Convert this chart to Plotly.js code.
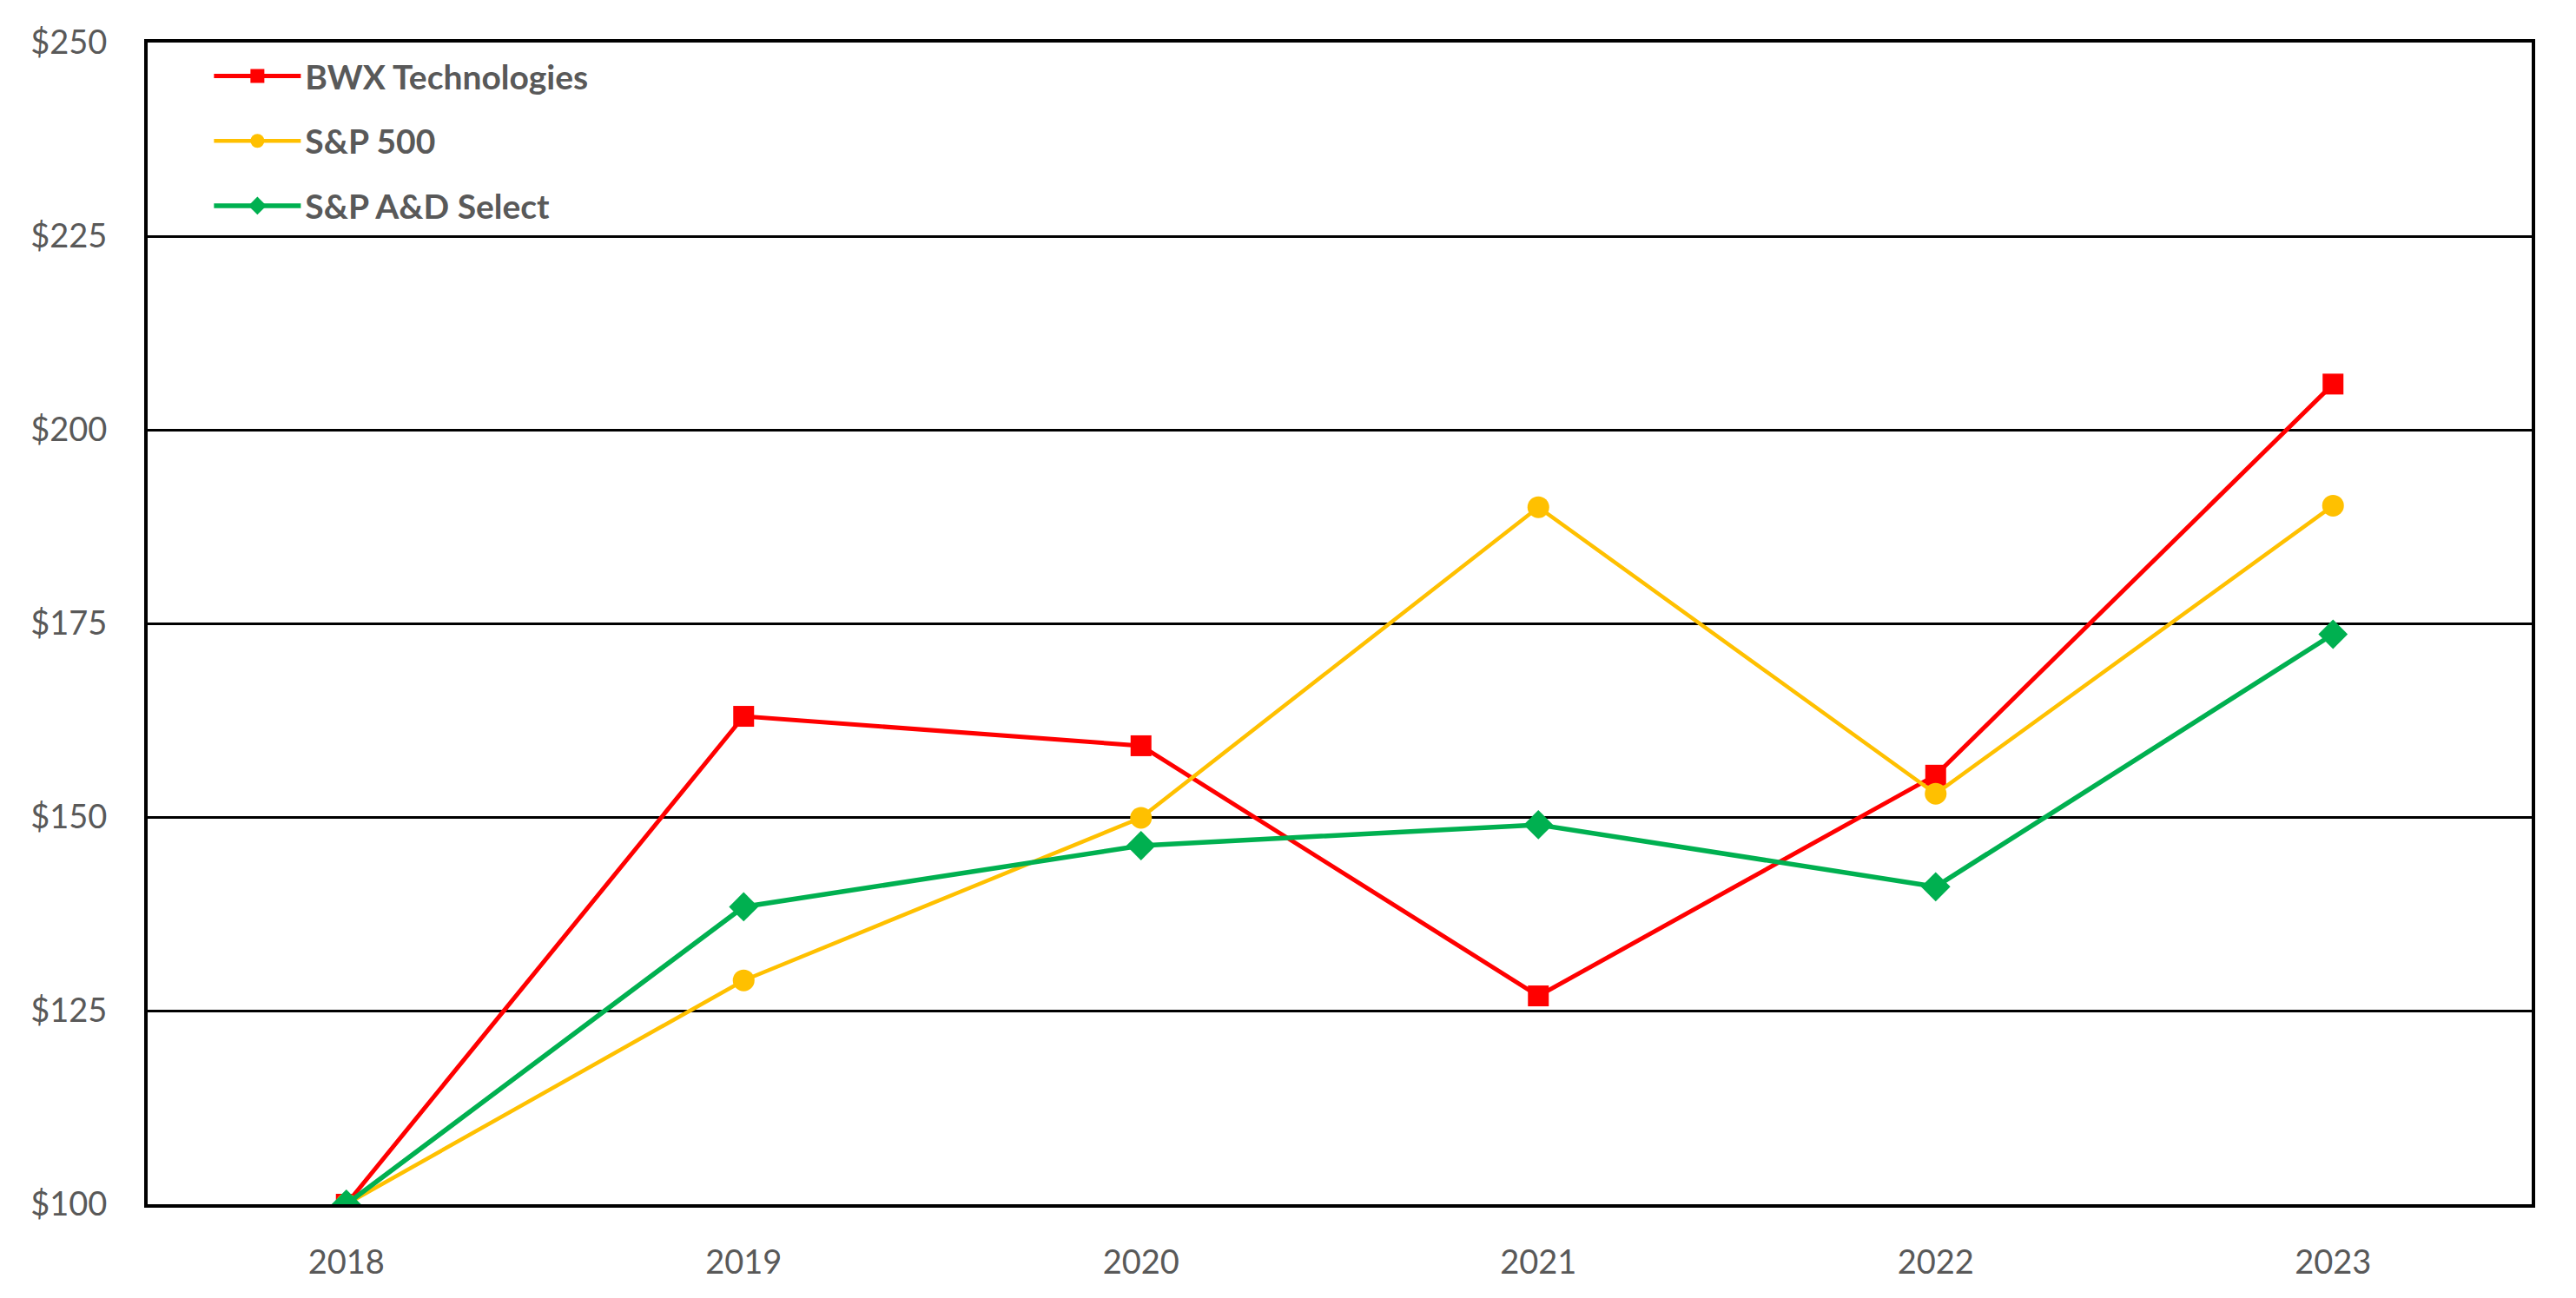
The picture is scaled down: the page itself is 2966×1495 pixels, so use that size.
<!DOCTYPE html>
<html>
<head>
<meta charset="utf-8">
<script src="https://cdn.plot.ly/plotly-3.0.1.min.js"></script>
<style>html,body{margin:0;padding:0;background:#fff;}#chart{width:2966px;height:1495px;}</style>
</head>
<body>
<div id="chart"></div>
<script>
const years = ['2018', '2019', '2020', '2021', '2022', '2023'];
const bwx = [100, 163.0, 159.2, 126.9, 155.4, 205.9];
const sp500 = [100, 128.9, 149.9, 190.0, 153.0, 190.2];
const spAD = [100, 138.4, 146.3, 149.0, 141.0, 173.6];
const seriesNames = ['BWX Technologies', 'S&P 500', 'S&P A&D Select'];
const yTicks = [100, 125, 150, 175, 200, 225, 250];

const FONT = 'Lato, "Open Sans", sans-serif';

const traces = [
  {x: years, y: bwx, name: seriesNames[0], type: 'scatter', mode: 'lines+markers', legendgroup: 'a',
   line: {color: '#FF0000', width: 5}, marker: {symbol: 'square', size: 24, color: '#FF0000'}},
  {x: years, y: sp500, name: seriesNames[1], type: 'scatter', mode: 'lines+markers', legendgroup: 'b',
   line: {color: '#FFC000', width: 4.5}, marker: {symbol: 'circle', size: 25, color: '#FFC000'}},
  {x: years, y: spAD, name: seriesNames[2], type: 'scatter', mode: 'lines+markers', legendgroup: 'c',
   line: {color: '#00B050', width: 5.5}, marker: {symbol: 'diamond', size: 26, color: '#00B050'}}
];

const layout = {
  width: 2966, height: 1495,
  margin: {l: 170, r: 51, t: 49, b: 108},
  paper_bgcolor: '#ffffff', plot_bgcolor: '#ffffff',
  font: {family: FONT, size: 38, color: '#595959'},
  showlegend: true,
  legend: {
    x: 0.026, y: 0.995, xanchor: 'left', yanchor: 'top',
    bgcolor: 'rgba(255,255,255,0)',
    font: {family: FONT, size: 39, color: '#595959', weight: 'bold'},
    traceorder: 'grouped', tracegroupgap: 21, itemwidth: 100
  },
  xaxis: {
    type: 'category', range: [-0.5, 5.5],
    showgrid: false, zeroline: false,
    showline: true, linecolor: '#000000', linewidth: 4, mirror: true,
    ticks: 'outside', ticklen: 30, tickcolor: 'rgba(0,0,0,0)',
    tickfont: {family: FONT, size: 38, color: '#595959'}
  },
  yaxis: {
    range: [100, 250], tickvals: yTicks, ticktext: yTicks.map(v => '$' + v),
    showgrid: true, gridcolor: '#000000', gridwidth: 3, zeroline: false,
    showline: true, linecolor: '#000000', linewidth: 4, mirror: true,
    ticks: 'outside', ticklen: 35, tickcolor: 'rgba(0,0,0,0)',
    tickfont: {family: FONT, size: 38, color: '#595959'}
  }
};

Plotly.newPlot('chart', traces, layout, {displayModeBar: false, staticPlot: true});
</script>
</body>
</html>
